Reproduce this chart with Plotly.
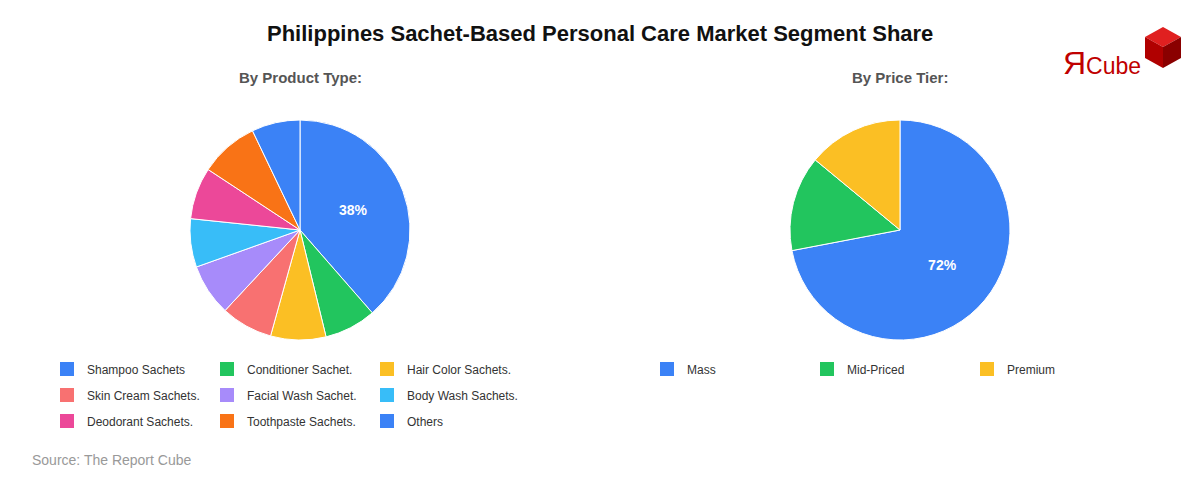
import plotly.graph_objects as go

product_labels = ["Shampoo Sachets", "Conditioner Sachet.", "Hair Color Sachets.", "Skin Cream Sachets.",
                  "Facial Wash Sachet.", "Body Wash Sachets.", "Deodorant Sachets.", "Toothpaste Sachets.", "Others"]
product_values = [38, 7.5, 8, 7.5, 7.5, 7, 7.5, 8.5, 7]
product_text = ["<b>38%</b>", "", "", "", "", "", "", "", ""]
product_colors = ["#3b82f6", "#22c55e", "#fbbf24", "#f87171", "#a78bfa", "#38bdf8", "#ec4899", "#f97316", "#3b82f6"]

tier_labels = ["Mass", "Mid-Priced", "Premium"]
tier_values = [72, 14, 14]
tier_text = ["<b>72%</b>", "", ""]
tier_colors = ["#3b82f6", "#22c55e", "#fbbf24"]

W, H = 1200, 480
def px(x0, x1): return [x0 / W, x1 / W]
def py(y0, y1): return [(H - y1) / H, (H - y0) / H]

fig = go.Figure()
fig.add_trace(go.Pie(labels=product_labels, values=product_values, text=product_text, textinfo="text",
                     sort=False, direction="clockwise", rotation=0, showlegend=False,
                     marker=dict(colors=product_colors, line=dict(color="white", width=1)),
                     textfont=dict(color="white", size=14, family="Arial"),
                     domain=dict(x=px(190, 410), y=py(120, 340)), hoverinfo="label+percent"))
fig.add_trace(go.Pie(labels=tier_labels, values=tier_values, text=tier_text, textinfo="text",
                     sort=False, direction="clockwise", rotation=0, showlegend=False,
                     marker=dict(colors=tier_colors, line=dict(color="white", width=1)),
                     textfont=dict(color="white", size=14, family="Arial"),
                     domain=dict(x=px(790, 1010), y=py(120, 340)), hoverinfo="label+percent"))

leg = dict(orientation="h", entrywidth=115, entrywidthmode="pixels", font=dict(size=12, color="#333", family="Arial"),
           xanchor="left", yanchor="middle", itemclick=False, bgcolor="rgba(0,0,0,0)", itemwidth=30)
legends = {}
for i, (lab, col) in enumerate(zip(product_labels, product_colors)):
    row = i // 3
    name = "legend" if row == 0 else f"legend{row + 1}"
    legends[name] = dict(leg, x=47 / W, y=1 - (369 + 26 * row) / H)
    fig.add_trace(go.Scatter(x=[None], y=[None], mode="markers", name=lab, legend=name,
                             marker=dict(symbol="square", size=14, color=col)))
for lab, col in zip(tier_labels, tier_colors):
    legends["legend4"] = dict(leg, x=647 / W, y=1 - 369 / H)
    fig.add_trace(go.Scatter(x=[None], y=[None], mode="markers", name=lab, legend="legend4",
                             marker=dict(symbol="square", size=14, color=col)))

def ann(text, x, y, size, color, xanchor="center"):
    return dict(text=text, x=x / W, y=1 - y / H, xref="paper", yref="paper", xanchor=xanchor, yanchor="middle",
                showarrow=False, font=dict(size=size, color=color))

fig.update_layout(
    width=W, height=H, margin=dict(l=0, r=0, t=0, b=0), paper_bgcolor="white", plot_bgcolor="white",
    font=dict(family="Arial"),
    xaxis=dict(visible=False), yaxis=dict(visible=False),
    annotations=[
        ann("<b>Philippines Sachet-Based Personal Care Market Segment Share</b>", 600, 34, 22, "#111"),
        ann("<b>By Product Type:</b>", 300, 77, 15, "#555"),
        ann("<b>By Price Tier:</b>", 900, 77, 15, "#555"),
        ann("Source: The Report Cube", 30, 460, 14, "#999", "left"),
        ann("Я<span style='font-size:23px'>Cube</span>", 1061, 63, 32, "#c00000", "left"),
    ],
    shapes=[
        dict(type="path", xref="paper", yref="paper",
             path=f"M {1145/W} {1-37/H} L {1163/W} {1-27/H} L {1181/W} {1-37/H} L {1163/W} {1-47/H} Z",
             fillcolor="#e02020", line=dict(width=0)),
        dict(type="path", xref="paper", yref="paper",
             path=f"M {1145/W} {1-37/H} L {1163/W} {1-47/H} L {1163/W} {1-68/H} L {1145/W} {1-58/H} Z",
             fillcolor="#b00000", line=dict(width=0)),
        dict(type="path", xref="paper", yref="paper",
             path=f"M {1163/W} {1-47/H} L {1181/W} {1-37/H} L {1181/W} {1-58/H} L {1163/W} {1-68/H} Z",
             fillcolor="#8a0000", line=dict(width=0)),
    ],
)
fig.update_layout(**legends)
fig.write_html("out.html", config={"displayModeBar": False}, post_script="document.body.style.margin='0';")
